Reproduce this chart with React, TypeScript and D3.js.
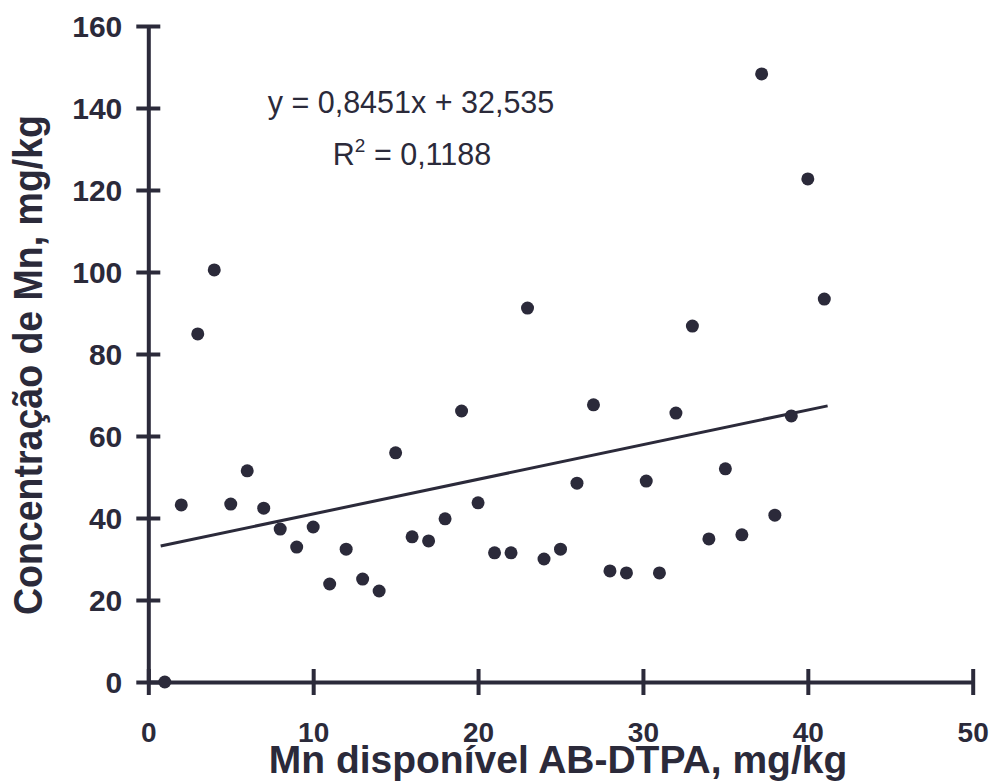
import React, { useRef, useEffect } from "react";
import * as d3 from "d3";

// Mn disponível (x) vs concentração (y)
const mnDisponivel = [
  1, 2, 3, 4, 5, 6, 7, 8, 9, 10, 11, 12, 13, 14, 15, 16, 17, 18, 19, 20, 21,
  22, 23, 24, 25, 26, 27, 28, 29, 30.2, 31, 32, 33, 34, 35, 36, 37.2, 38, 39, 40, 41,
];
const concentracao = [
  0, 43.2, 84.9, 100.5, 43.4, 51.5, 42.4, 37.3, 32.9, 37.8, 23.9, 32.4, 25.1,
  22.2, 55.9, 35.4, 34.4, 39.8, 66.1, 43.7, 31.5, 31.5, 91.2, 30.0, 32.4, 48.5,
  67.6, 27.1, 26.6, 49.0, 26.6, 65.6, 86.8, 34.9, 52.0, 35.9, 148.3, 40.7, 64.9,
  122.7, 93.4,
];
const xTicks = [0, 10, 20, 30, 40, 50];
const yTicks = [0, 20, 40, 60, 80, 100, 120, 140, 160];
const slope = 0.8451;
const intercept = 32.535;
const trendRange = [0.75, 41.2];

const INK = "#2b2a3a";
const FONT = "'Liberation Sans', Arial, sans-serif";

const ScatterMn = () => {
  const svgRef = useRef<SVGSVGElement>(null);

  useEffect(() => {
    const width = 994;
    const height = 783;
    const svg = d3.select(svgRef.current);
    svg.selectAll("*").remove();

    const x = d3.scaleLinear().domain([0, 50]).range([148.3, 972.7]);
    const y = d3.scaleLinear().domain([0, 160]).range([682, 26]);

    svg.attr("width", width).attr("height", height);

    // y axis
    const yAxis = svg
      .append("g")
      .attr("transform", `translate(${x(0)},0)`)
      .call(d3.axisLeft(y).tickValues(yTicks).tickSizeInner(12).tickSizeOuter(0));
    yAxis.select(".domain").attr("stroke", INK).attr("stroke-width", 4);
    yAxis.selectAll(".tick line").attr("x2", 12).attr("x1", -12).attr("stroke", INK).attr("stroke-width", 4);
    yAxis
      .selectAll(".tick text")
      .attr("fill", INK)
      .attr("font-family", FONT)
      .attr("font-weight", "bold")
      .attr("font-size", 30)
      .attr("x", -26)
      .attr("dy", "0.36em");

    // x axis
    const xAxis = svg
      .append("g")
      .attr("transform", `translate(0,${y(0)})`)
      .call(d3.axisBottom(x).tickValues(xTicks).tickSizeInner(12).tickSizeOuter(0));
    xAxis.select(".domain").attr("stroke", INK).attr("stroke-width", 4);
    xAxis.selectAll(".tick line").attr("y1", -13).attr("y2", 13).attr("stroke", INK).attr("stroke-width", 4);
    xAxis
      .selectAll(".tick text")
      .attr("fill", INK)
      .attr("font-family", FONT)
      .attr("font-weight", "bold")
      .attr("font-size", 28)
      .attr("dy", null)
      .attr("y", 60);

    // trend line
    const line = d3
      .line<number>()
      .x((d) => x(d))
      .y((d) => y(slope * d + intercept));
    svg
      .append("path")
      .attr("d", line(trendRange))
      .attr("fill", "none")
      .attr("stroke", INK)
      .attr("stroke-width", 3);

    // points
    svg
      .append("g")
      .selectAll("circle")
      .data(mnDisponivel)
      .join("circle")
      .attr("cx", (d) => x(d))
      .attr("cy", (d, i) => y(concentracao[i]))
      .attr("r", 6.5)
      .attr("fill", INK);

    // equation
    svg
      .append("text")
      .attr("fill", INK)
      .attr("font-family", FONT)
      .attr("font-size", 30.5)
      .attr("text-anchor", "middle")
      .attr("x", 411)
      .attr("y", 113)
      .text("y = 0,8451x + 32,535");
    const r2 = svg
      .append("text")
      .attr("fill", INK)
      .attr("font-family", FONT)
      .attr("font-size", 30.5)
      .attr("text-anchor", "middle")
      .attr("x", 412)
      .attr("y", 165);
    r2.append("tspan").text("R");
    r2.append("tspan").attr("font-size", 19).attr("dy", -13).text("2");
    r2.append("tspan").attr("dy", 13).text(" = 0,1188");

    // axis titles
    svg
      .append("text")
      .attr("x", 558)
      .attr("y", 773)
      .attr("text-anchor", "middle")
      .attr("fill", INK)
      .attr("font-family", FONT)
      .attr("font-weight", "bold")
      .attr("font-size", 39)
      .text("Mn disponível AB-DTPA, mg/kg");

    svg
      .append("text")
      .attr("transform", "translate(42,365) rotate(-90) scale(1,1.07)")
      .attr("text-anchor", "middle")
      .attr("fill", INK)
      .attr("font-family", FONT)
      .attr("font-weight", "bold")
      .attr("font-size", 37.5)
      .text("Concentração de Mn, mg/kg");
  }, []);

  return <svg ref={svgRef} style={{ position: "absolute", left: 0, top: 0, background: "#fff" }} />;
};

export default function App() {
  return <ScatterMn />;
}
